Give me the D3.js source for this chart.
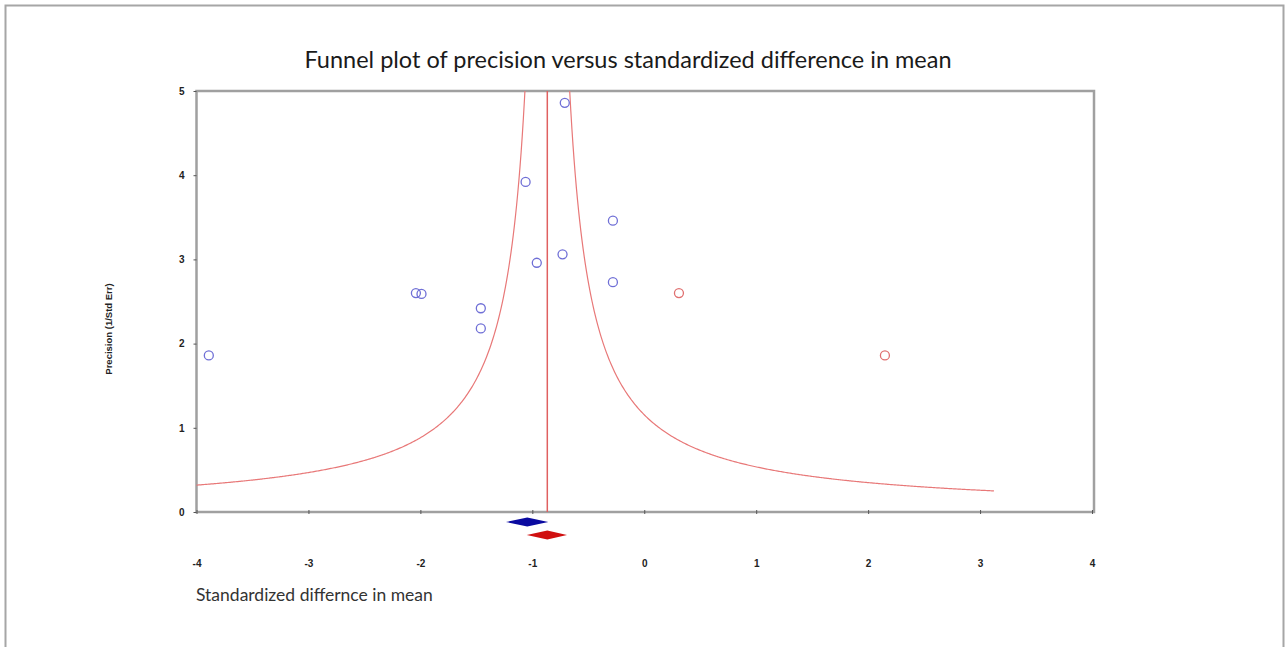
<!DOCTYPE html>
<html>
<head>
<meta charset="utf-8">
<script src="https://cdn.jsdelivr.net/npm/d3@7"></script>
<style>
  body { margin: 0; background: #fff; }
  svg { display: block; }
</style>
</head>
<body>
<div id="chart"></div>
<script>
// observed studies (blue) and imputed studies (red)
var studyDiff = [-3.89, -2.04, -1.99, -1.46, -1.46, -1.06, -0.96, -0.71, -0.73, -0.28, -0.28];
var studyPrec = [1.86, 2.60, 2.59, 2.42, 2.18, 3.92, 2.96, 4.86, 3.06, 3.46, 2.73];
var imputedDiff = [0.31, 2.15];
var imputedPrec = [2.60, 1.86];

// combined estimates: [point, lower, upper]
var observedEst = [-1.045, -1.235, -0.857];
var adjustedEst = [-0.866, -1.05, -0.69];

var xTicks = [-4, -3, -2, -1, 0, 1, 2, 3, 4];
var yTicks = [0, 1, 2, 3, 4, 5];

var W = 1285, H = 647;
var plotLeft = 196.5, plotRight = 1092, plotTop = 91, plotBottom = 512;

var svg = d3.select("#chart").append("svg")
  .attr("width", W)
  .attr("height", H);

// outer frame
svg.append("path")
  .attr("d", "M5.5," + H + "V5.5H1283.5V" + H)
  .attr("fill", "none")
  .attr("stroke", "#a6a6a6")
  .attr("stroke-width", 2);

var x = d3.scaleLinear().domain([-4, 4]).range([plotLeft, plotRight]);
var y = d3.scaleLinear().domain([0, 5]).range([plotBottom, plotTop]);

// title
svg.append("text")
  .attr("x", 628)
  .attr("y", 68)
  .attr("text-anchor", "middle")
  .style("font-family", "Lato, 'Open Sans', sans-serif")
  .style("font-size", "23.5px")
  .style("fill", "#1a1a1a")
  .text("Funnel plot of precision versus standardized difference in mean");

// plot frame
svg.append("rect")
  .attr("x", plotLeft)
  .attr("y", plotTop)
  .attr("width", plotRight - plotLeft + 2)
  .attr("height", plotBottom - plotTop)
  .attr("fill", "none")
  .attr("stroke", "#a0a0a0")
  .attr("stroke-width", 2.5);

// axes
var xAxis = svg.append("g")
  .attr("transform", "translate(0," + plotBottom + ")")
  .call(d3.axisBottom(x).tickValues(xTicks).tickSize(4).tickPadding(44).tickFormat(String));
var yAxis = svg.append("g")
  .attr("transform", "translate(" + plotLeft + ",0)")
  .call(d3.axisLeft(y).tickValues(yTicks).tickSize(3).tickPadding(9).tickFormat(String));

xAxis.selectAll("line").attr("transform", "translate(0,-2)");
[xAxis, yAxis].forEach(function(g) {
  g.select(".domain").remove();
  g.selectAll("line").attr("stroke", "#555");
  g.selectAll("text")
    .style("font-family", "'Liberation Sans', Arial, sans-serif")
    .style("font-size", "10px")
    .style("font-weight", "bold")
    .style("fill", "#222");
});

// axis titles
svg.append("text")
  .attr("x", 196)
  .attr("y", 601)
  .style("font-family", "Lato, 'Open Sans', sans-serif")
  .style("font-size", "17.5px")
  .style("fill", "#333")
  .text("Standardized differnce in mean");

svg.append("text")
  .attr("transform", "translate(112,329) rotate(-90)")
  .attr("text-anchor", "middle")
  .style("font-family", "'Liberation Sans', Arial, sans-serif")
  .style("font-size", "9.5px")
  .style("font-weight", "bold")
  .style("fill", "#222")
  .text("Precision (1/Std Err)");

// funnel around the adjusted estimate: precision = 1 / |diff - mean|
var mean = adjustedEst[0];
var plot = svg.append("g");
var line = d3.line()
  .x(function(d) { return x(d[0]); })
  .y(function(d) { return y(d[1]); });

var leftFunnel = d3.range(-4, mean - 0.2, 0.01).concat([mean - 0.2])
  .map(function(d) { return [d, 1 / (mean - d)]; });
var rightFunnel = d3.range(mean + 0.2, 3.13, 0.01)
  .map(function(d) { return [d, 1 / (d - mean)]; });

[leftFunnel, rightFunnel].forEach(function(pts) {
  plot.append("path")
    .attr("d", line(pts))
    .attr("fill", "none")
    .attr("stroke", "#e87878")
    .attr("stroke-width", 1.2);
});

plot.append("line")
  .attr("x1", x(mean)).attr("x2", x(mean))
  .attr("y1", y(5)).attr("y2", y(0))
  .attr("stroke", "#e06060")
  .attr("stroke-width", 1.5);

// study points
var studies = studyDiff.map(function(d, i) { return { x: d, y: studyPrec[i] }; });
var imputed = imputedDiff.map(function(d, i) { return { x: d, y: imputedPrec[i] }; });

plot.selectAll(".study")
  .data(studies)
  .enter().append("circle")
  .attr("class", "study")
  .attr("cx", function(d) { return x(d.x); })
  .attr("cy", function(d) { return y(d.y); })
  .attr("r", 4.5)
  .attr("fill", "none")
  .attr("stroke", "#6f6fd6")
  .attr("stroke-width", 1.3);

plot.selectAll(".imputed")
  .data(imputed)
  .enter().append("circle")
  .attr("class", "imputed")
  .attr("cx", function(d) { return x(d.x); })
  .attr("cy", function(d) { return y(d.y); })
  .attr("r", 4.5)
  .attr("fill", "none")
  .attr("stroke", "#e07070")
  .attr("stroke-width", 1.3);

// summary diamonds
function diamond(est, cy, color) {
  var pts = [[x(est[1]), cy], [x(est[0]), cy - 4.5], [x(est[2]), cy], [x(est[0]), cy + 4.5]];
  svg.append("path")
    .attr("d", "M" + pts.join("L") + "Z")
    .attr("fill", color);
}
diamond(observedEst, 522, "#0a0aa0");
diamond(adjustedEst, 535, "#d01010");
</script>
</body>
</html>
